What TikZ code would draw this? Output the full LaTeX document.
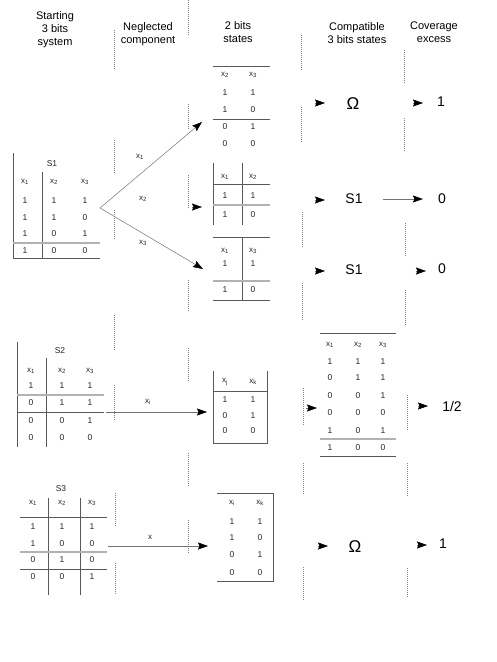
\documentclass[tikz,border=0pt]{standalone}
\usepackage{fontspec}
\setmainfont{Liberation Sans}
\usetikzlibrary{arrows.meta}
\newcommand{\xv}[1]{x\textsubscript{#1}}
\begin{document}
\begin{tikzpicture}[x=1pt,y=-1pt,
	head/.style={font=\fontsize{11}{13}\selectfont,align=center,inner sep=0pt},
	cell/.style={font=\fontsize{8.5}{10}\selectfont,inner sep=0pt,text=black!85},
	var/.style={font=\fontsize{8}{9}\selectfont,inner sep=0pt,text=black!85},
	big/.style={font=\fontsize{14}{16}\selectfont,inner sep=0pt},
	omega/.style={font=\fontsize{17}{19}\selectfont,inner sep=0pt},
	rule/.style={draw=black!65,line width=0.6pt},
	grule/.style={draw=black!30,line width=1.4pt},
	sep/.style={draw=black!50,line width=0.5pt,dash pattern=on 1pt off 1pt},
	tip/.style={draw=black!55,line width=0.5pt,-{Stealth[length=10pt,width=7pt,inset=1.5pt,color=black]}}]
	\useasboundingbox (0,0) rectangle (496,662);
	% column titles
	\path (55,30)node[head](hsys){Starting\\3 bits\\system}
		(148,34)node[head](hneg){Neglected\\component}
		(238,32)node[head](htwo){2 bits\\states}
		(357,33)node[head](hcomp){Compatible\\3 bits states}
		(434,32)node[head](hcov){Coverage\\excess};
	% dotted column separators
	\foreach \x/\a/\b in {114/30/70,114/140/173,114/210/240,114/315/350,114/385/420,115/493/527,115/563/595,
		188/0/35,188/104/130,188/175/208,188/280/312,188/348/382,188/453/487,188/520/553,
		301/35/70,301/107/142,302/212/247,302/283/320,303/388/425,303/463/495,303/567/600,
		404/50/83,404/118/151,405/223/256,405/290/325,407/395/430,407/463/497,407/568/598}{\draw[sep](\x,\a)--(\x,\b);}
	% starting system S1
	\path (52,164)node[cell](s1){S1};
	\draw[rule](13,153)--(13,258)--(100,258);
	\draw[rule](42,172)--(42,258);
	\draw[grule](13,243)--(100,243);
	\foreach \n/\x in {1/25,2/54,3/85}{\path (\x,182)node[var](s1x\n){\xv{\n}};}
	\foreach \y/\a/\b/\c [count=\r] in {201/1/1/1,218/1/1/0,234/1/0/1,251/1/0/0}{
		\path (25,\y)node[cell](s1a\r){\a} (54,\y)node[cell](s1b\r){\b} (85,\y)node[cell](s1c\r){\c};}
	% neglecting one component of S1
	\coordinate (fork) at (100,208);
	\coordinate (ta) at (202,122);
	\coordinate (tbpre) at (192,207);
	\coordinate (tb) at (202,207);
	\coordinate (tc) at (203,269);
	\draw[tip](fork)--(ta);
	\draw[tip](tbpre)--(tb);
	\draw[tip](fork)--(tc);
	\path (140,157)node[var](n1){\xv{1}} (143,199)node[var](n2){\xv{2}} (143,243)node[var](n3){\xv{3}};
	% 2 bits states of S1
	\draw[rule](213,66)--(270,66);
	\draw[rule](213,119)--(270,119);
	\path (225,75)node[var](tax2){\xv{2}} (253,75)node[var](tax3){\xv{3}};
	\foreach \y/\a/\b [count=\r] in {93/1/1,110/1/0,127/0/1,144/0/0}{
		\path (225,\y)node[cell](taa\r){\a} (253,\y)node[cell](tab\r){\b};}
	\draw[rule](213,163)--(213,225);
	\draw[rule](242,163)--(242,225);
	\draw[rule](213,184)--(270,184);
	\draw[grule](213,205)--(270,205);
	\path (225,177)node[var](tbx1){\xv{1}} (253,177)node[var](tbx2){\xv{2}};
	\path (225,196)node[cell](tba1){1} (253,196)node[cell](tbb1){1}
		(225,215)node[cell](tba2){1} (253,215)node[cell](tbb2){0};
	\draw[rule](213,237)--(270,237);
	\draw[rule](242,237)--(242,300);
	\draw[grule](213,281)--(270,281);
	\draw[rule](213,300)--(270,300);
	\path (225,251)node[var](tcx1){\xv{1}} (253,251)node[var](tcx3){\xv{3}};
	\path (225,264)node[cell](tca1){1} (253,264)node[cell](tcb1){1}
		(225,290)node[cell](tca2){1} (253,290)node[cell](tcb2){0};
	% compatible states and coverage excess of S1
	\path (353,104)node[omega](ca){Ω} (354,199)node[big](cb){S1} (354,270)node[big](cc){S1};
	\path (441,102)node[big](ea){1} (442,199)node[big](eb){0} (442,269)node[big](ec){0};
	\foreach \y in {103,200,271}{\draw[tip](315,\y)--(325,\y);}
	\draw[tip](413,103)--(423,103);
	\draw[tip]([xshift=20pt]cb.east)--([xshift=-15pt]eb.west);
	\draw[tip](416,271)--(426,271);
	% starting system S2
	\path (60,351)node[cell](s2){S2};
	\draw[rule](17,342)--(17,447);
	\draw[rule](46,358)--(46,447);
	\draw[grule](17,395)--(104,395);
	\draw[rule](17,412)--(104,412);
	\foreach \n/\x in {1/31,2/62,3/90}{\path (\x,371)node[var](s2x\n){\xv{\n}};}
	\foreach \y/\a/\b/\c [count=\r] in {386/1/1/1,403/0/1/1,421/0/0/1,438/0/0/0}{
		\path (31,\y)node[cell](s2a\r){\a} (62,\y)node[cell](s2b\r){\b} (90,\y)node[cell](s2c\r){\c};}
	\coordinate (s2out) at (106,412);
	\coordinate (ud) at (207,412);
	\draw[tip](s2out)--(ud);
	\path (148,402)node[var](ni){\xv{i}};
	\draw[rule](213,371)--(213,443)--(267,443)--(267,371);
	\draw[rule](213,391)--(267,391);
	\path (225,382)node[var](uxj){\xv{j}} (253,382)node[var](uxk){\xv{k}};
	\foreach \y/\a/\b [count=\r] in {400/1/1,416/0/1,431/0/0}{
		\path (225,\y)node[cell](ua\r){\a} (253,\y)node[cell](ub\r){\b};}
	\draw[tip](306,408)--(317,408);
	\draw[rule](320,333)--(396,333);
	\draw[grule](320,439)--(396,439);
	\draw[rule](320,456)--(396,456);
	\foreach \n/\x in {1/330,2/358,3/383}{\path (\x,345)node[var](wx\n){\xv{\n}};}
	\foreach \y/\a/\b/\c [count=\r] in {362/1/1/1,378/0/1/1,396/0/0/1,413/0/0/0,431/1/0/1,448/1/0/0}{
		\path (330,\y)node[cell](wa\r){\a} (358,\y)node[cell](wb\r){\b} (383,\y)node[cell](wc\r){\c};}
	\draw[tip](418,406)--(428,406);
	\path (452,406)node[big](ed){1/2};
	% starting system S3
	\path (61,489)node[cell](s3){S3};
	\draw[rule](48,498)--(48,595);
	\draw[rule](80,498)--(80,595);
	\draw[rule](20,517)--(107,517);
	\draw[grule](20,552)--(107,552);
	\draw[rule](20,569)--(107,569);
	\foreach \n/\x in {1/33,2/62,3/92}{\path (\x,503)node[var](s3x\n){\xv{\n}};}
	\foreach \y/\a/\b/\c [count=\r] in {527/1/1/1,544/1/0/0,560/0/1/0,577/0/0/1}{
		\path (33,\y)node[cell](s3a\r){\a} (62,\y)node[cell](s3b\r){\b} (92,\y)node[cell](s3c\r){\c};}
	\coordinate (s3out) at (108,546);
	\coordinate (vd) at (208,546);
	\draw[tip](s3out)--(vd);
	\path (150,537)node[var](nx){x};
	\draw[rule](217,493)--(273,493)--(273,581)--(217,581);
	\path (232,503)node[var](vxi){\xv{i}} (260,503)node[var](vxk){\xv{k}};
	\foreach \y/\a/\b [count=\r] in {522/1/1,538/1/0,555/0/1,573/0/0}{
		\path (232,\y)node[cell](va\r){\a} (260,\y)node[cell](vb\r){\b};}
	\draw[tip](318,546)--(328,546);
	\path (355,547)node[omega](ce){Ω};
	\draw[tip](417,545)--(427,545);
	\path (443,544)node[big](ee){1};
\end{tikzpicture}
\end{document}
